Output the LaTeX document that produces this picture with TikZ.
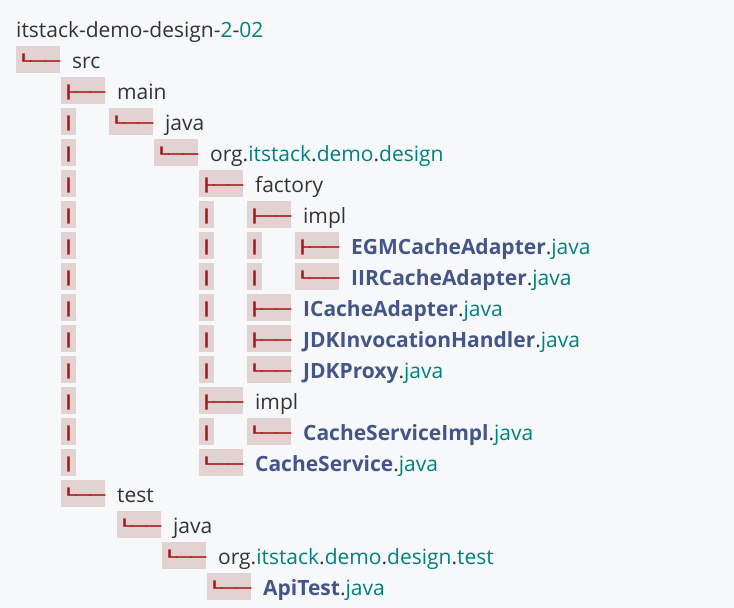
\documentclass[tikz,border=0pt]{standalone}
\usepackage{fontspec}
\usepackage{graphicx}
\setmainfont{Open Sans}
\newfontfamily\treefont[FakeBold=2]{DejaVu Sans Mono}
\usetikzlibrary{positioning}

\definecolor{pagebg}{HTML}{F7F8FA}
\definecolor{errbg}{HTML}{E3D2D2}
\definecolor{errfg}{HTML}{A61717}
\definecolor{plain}{HTML}{333333}
\definecolor{pkgteal}{HTML}{008080}
\definecolor{clsblue}{HTML}{445588}

\newcommand{\treeglyph}[1]{\raisebox{-1.5pt}[\height][\depth]{\scalebox{1.93}[1]{\vphantom{│}#1}}}
\newcommand{\teeglyph}{\treeglyph{├──}}
\newcommand{\elbowglyph}{\treeglyph{└──}}
\newcommand{\barglyph}{\treeglyph{│}}
\newcommand{\javafile}[1]{\textbf{\textcolor{clsblue}{#1}}.\textcolor{pkgteal}{java}}
\newcommand{\pkg}[1]{\textcolor{pkgteal}{#1}}

\begin{document}
\begin{tikzpicture}[
    x=1pt, y=-1pt,
    node distance = 12pt,
    glyph/.style={
        fill=errbg, text=errfg, font=\treefont\fontsize{12.5}{12.5}\selectfont,
        inner sep=0pt, minimum height=27pt, anchor=west
    },
    bar/.style={
        glyph, minimum width=14pt
    },
    fork/.style={
        glyph, minimum width=43pt
    },
    entry/.style={
        text=plain, font=\fontsize{21}{25}\selectfont,
        inner sep=0pt, text height=20pt, text depth=3pt
    }
]

    \fill[pagebg] (0,0) rectangle (734,608);
    \useasboundingbox (0,0) rectangle (734,608);

    \node[entry,anchor=west](root) at (16,28.5) {itstack-demo-design-\pkg{2}-\pkg{02}};

    % src
    \node[fork](g2) at (16,59.5) {\elbowglyph};
    \node[entry,right=of g2](src) {src};

    % main
    \node[fork](g3) at (61,90.5) {\teeglyph};
    \node[entry,right=of g3](main) {main};

    \node[bar](b4a) at (61,121.5) {\barglyph};
    \node[fork](g4) at (109,121.5) {\elbowglyph};
    \node[entry,right=of g4](mainjava) {java};

    \node[bar](b5a) at (61,152.5) {\barglyph};
    \node[fork](g5) at (154,152.5) {\elbowglyph};
    \node[entry,right=of g5](pkgmain) {org.\pkg{itstack}.\pkg{demo}.\pkg{design}};

    % factory
    \node[bar](b6a) at (61,183.5) {\barglyph};
    \node[fork](g6) at (199,183.5) {\teeglyph};
    \node[entry,right=of g6](factory) {factory};

    \node[bar](b7a) at (61,214.5) {\barglyph};
    \node[bar](b7b) at (199,214.5) {\barglyph};
    \node[fork](g7) at (247,214.5) {\teeglyph};
    \node[entry,right=of g7](factoryimpl) {impl};

    \node[bar](b8a) at (61,245.5) {\barglyph};
    \node[bar](b8b) at (199,245.5) {\barglyph};
    \node[bar](b8c) at (247,245.5) {\barglyph};
    \node[fork](g8) at (295,245.5) {\teeglyph};
    \node[entry,right=of g8](egm) {\javafile{EGMCacheAdapter}};

    \node[bar](b9a) at (61,276.5) {\barglyph};
    \node[bar](b9b) at (199,276.5) {\barglyph};
    \node[bar](b9c) at (247,276.5) {\barglyph};
    \node[fork](g9) at (295,276.5) {\elbowglyph};
    \node[entry,right=of g9](iir) {\javafile{IIRCacheAdapter}};

    \node[bar](b10a) at (61,307.5) {\barglyph};
    \node[bar](b10b) at (199,307.5) {\barglyph};
    \node[fork](g10) at (247,307.5) {\teeglyph};
    \node[entry,right=of g10](icache) {\javafile{ICacheAdapter}};

    \node[bar](b11a) at (61,338.5) {\barglyph};
    \node[bar](b11b) at (199,338.5) {\barglyph};
    \node[fork](g11) at (247,338.5) {\teeglyph};
    \node[entry,right=of g11](handler) {\javafile{JDKInvocationHandler}};

    \node[bar](b12a) at (61,369.5) {\barglyph};
    \node[bar](b12b) at (199,369.5) {\barglyph};
    \node[fork](g12) at (247,369.5) {\elbowglyph};
    \node[entry,right=of g12](proxy) {\javafile{JDKProxy}};

    % impl
    \node[bar](b13a) at (61,400.5) {\barglyph};
    \node[fork](g13) at (199,400.5) {\teeglyph};
    \node[entry,right=of g13](impl) {impl};

    \node[bar](b14a) at (61,431.5) {\barglyph};
    \node[bar](b14b) at (199,431.5) {\barglyph};
    \node[fork](g14) at (247,431.5) {\elbowglyph};
    \node[entry,right=of g14](serviceimpl) {\javafile{CacheServiceImpl}};

    \node[bar](b15a) at (61,462.5) {\barglyph};
    \node[fork](g15) at (199,462.5) {\elbowglyph};
    \node[entry,right=of g15](service) {\javafile{CacheService}};

    % test
    \node[fork](g16) at (61,493.5) {\elbowglyph};
    \node[entry,right=of g16](test) {test};

    \node[fork](g17) at (117,524.5) {\elbowglyph};
    \node[entry,right=of g17](testjava) {java};

    \node[fork](g18) at (162,555.5) {\elbowglyph};
    \node[entry,right=of g18](pkgtest) {org.\pkg{itstack}.\pkg{demo}.\pkg{design}.\pkg{test}};

    \node[fork](g19) at (207,586.5) {\elbowglyph};
    \node[entry,right=of g19](apitest) {\javafile{ApiTest}};

\end{tikzpicture}
\end{document}
